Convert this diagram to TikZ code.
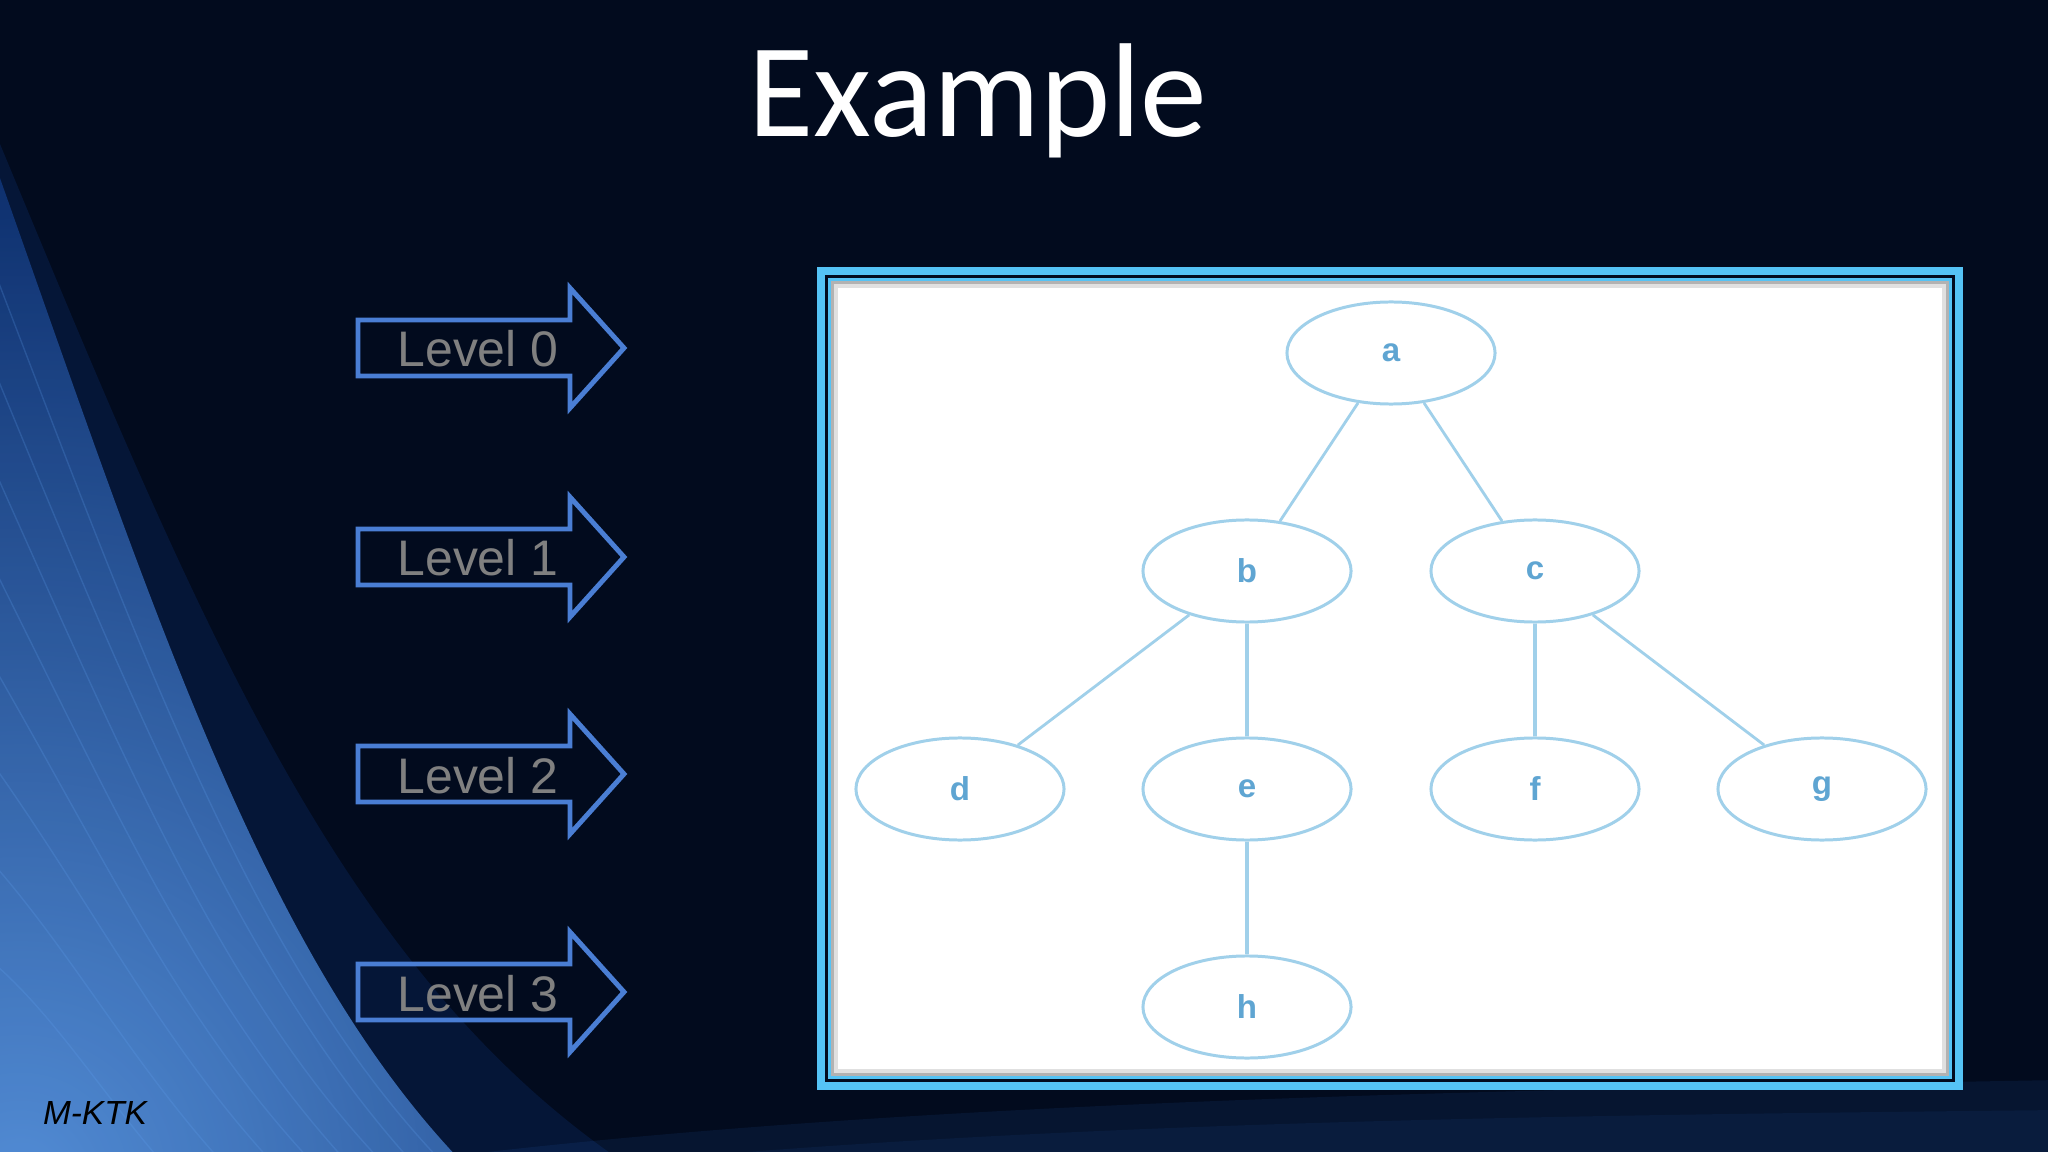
\documentclass[tikz,border=0pt]{standalone}
\usepackage{fontspec}
\setmainfont{Liberation Sans}
\newfontfamily\titlefont{Carlito}
\usepackage{tikz}
\usetikzlibrary{shapes.geometric}
\definecolor{bgnavy}{RGB}{2,11,30}
\definecolor{streakblue}{RGB}{45,115,215}
\definecolor{lightstreak}{RGB}{95,160,240}
\definecolor{deepstreak}{RGB}{12,48,115}
\definecolor{arrowblue}{RGB}{74,126,212}
\definecolor{lvlgray}{RGB}{128,128,128}
\definecolor{framecyan}{RGB}{85,195,245}
\definecolor{treeblue}{RGB}{160,208,234}
\definecolor{labelblue}{RGB}{95,165,210}

\begin{document}
\begin{tikzpicture}[x=0.01cm,y=-0.01cm]
	\useasboundingbox (0,0) rectangle (2048,1152);
	\tikzstyle{lvlarrow}=[draw=arrowblue, line width=1.4pt, miter limit=10]
	\tikzstyle{lvltext}=[text=lvlgray, font=\fontsize{14.2}{16}\selectfont, anchor=base, inner sep=0pt]
	\tikzstyle{vertex}=[ellipse, draw=treeblue, line width=0.85pt, minimum width=2.08cm, minimum height=1.02cm, inner sep=0pt, text=labelblue, font=\bfseries\fontsize{9.4}{10}\selectfont]
	\tikzstyle{edge}=[draw=treeblue, line width=0.8pt]
	\tikzstyle{thickedge}=[draw=treeblue, line width=1.3pt]
	\tikzstyle{streak}=[draw=lightstreak, line width=0.4pt, opacity=0.22]
	% background
	\fill[bgnavy] (0,0) rectangle (2048,1152);
	\begin{scope}
		\clip (0,0) rectangle (2048,1152);
		\fill[deepstreak, opacity=0.3] (-10,120) .. controls (190,600) and (330,960) .. (620,1160) -- (-10,1160) -- cycle;
		\begin{scope}[opacity=0.85]
			\clip (-10,150) .. controls (150,600) and (260,950) .. (460,1160) -- (-10,1160) -- cycle;
			\shade[inner color=lightstreak, outer color=deepstreak] (20,1180) circle (1050);
		\end{scope}
		\draw[streak] (-10,260) .. controls (140,650) and (250,960) .. (440,1160);
		\draw[streak] (-10,360) .. controls (130,700) and (240,970) .. (410,1160);
		\draw[streak] (-10,460) .. controls (120,750) and (220,990) .. (380,1160);
		\draw[streak] (-10,560) .. controls (110,800) and (200,1000) .. (345,1160);
		\draw[streak] (-10,660) .. controls (100,850) and (180,1020) .. (310,1160);
		\draw[streak] (-10,760) .. controls (90,900) and (160,1040) .. (270,1160);
		\draw[streak] (-10,860) .. controls (70,950) and (130,1060) .. (220,1160);
		\draw[streak] (-10,960) .. controls (50,1010) and (100,1090) .. (160,1160);
		\fill[streakblue, opacity=0.10] (420,1160) .. controls (900,1100) and (1500,1090) .. (2060,1080) -- (2060,1160) -- cycle;
		\fill[streakblue, opacity=0.08] (650,1160) .. controls (1100,1120) and (1600,1115) .. (2060,1110) -- (2060,1160) -- cycle;
	\end{scope}
	% title
	\path (978,137) node[text=white, font=\titlefont\fontsize{38}{40}\selectfont, anchor=base] (title) {Example};
	% level arrows
	\draw[lvlarrow] (358,320) -- (570,320) -- (570,288) -- (624,348) -- (570,408) -- (570,376) -- (358,376) -- cycle;
	\draw[lvlarrow] (358,529) -- (570,529) -- (570,497) -- (624,557) -- (570,617) -- (570,585) -- (358,585) -- cycle;
	\draw[lvlarrow] (358,746) -- (570,746) -- (570,714) -- (624,774) -- (570,834) -- (570,802) -- (358,802) -- cycle;
	\draw[lvlarrow] (358,964) -- (570,964) -- (570,932) -- (624,992) -- (570,1052) -- (570,1020) -- (358,1020) -- cycle;
	\path (478,367) node[lvltext] (l0) {Level 0};
	\path (478,576) node[lvltext] (l1) {Level 1};
	\path (478,793) node[lvltext] (l2) {Level 2};
	\path (478,1011) node[lvltext] (l3) {Level 3};
	% picture frame
	\fill[framecyan] (817,267) rectangle (1963,1090);
	\fill[bgnavy] (825,275) rectangle (1955,1082);
	\fill[framecyan] (828,278) rectangle (1952,1079);
	\fill[white] (831,281) rectangle (1949,1076);
	\draw[black!30, line width=0.9pt] (833,283) rectangle (1947,1074);
	\draw[black!12, line width=0.9pt] (836,286) rectangle (1944,1071);
	% tree
	\path (1391,353) node[vertex] (v0) {a};
	\path (1247,571) node[vertex] (v1) {b};
	\path (1535,571) node[vertex] (v2) {c};
	\path (960,789) node[vertex] (v3) {d};
	\path (1247,789) node[vertex] (v4) {e};
	\path (1535,789) node[vertex] (v5) {f};
	\path (1822,789) node[vertex] (v6) {g};
	\path (1247,1007) node[vertex] (v7) {h};
	\draw[edge] (v0) -- (v1);
	\draw[edge] (v0) -- (v2);
	\draw[edge] (v1) -- (v3);
	\draw[thickedge] (v1) -- (v4);
	\draw[thickedge] (v2) -- (v5);
	\draw[edge] (v2) -- (v6);
	\draw[thickedge] (v4) -- (v7);
	% signature
	\path (95,1124) node[anchor=base, font=\itshape\fontsize{9.5}{10}\selectfont, text=black] (sign) {M-KTK};
\end{tikzpicture}
\end{document}
